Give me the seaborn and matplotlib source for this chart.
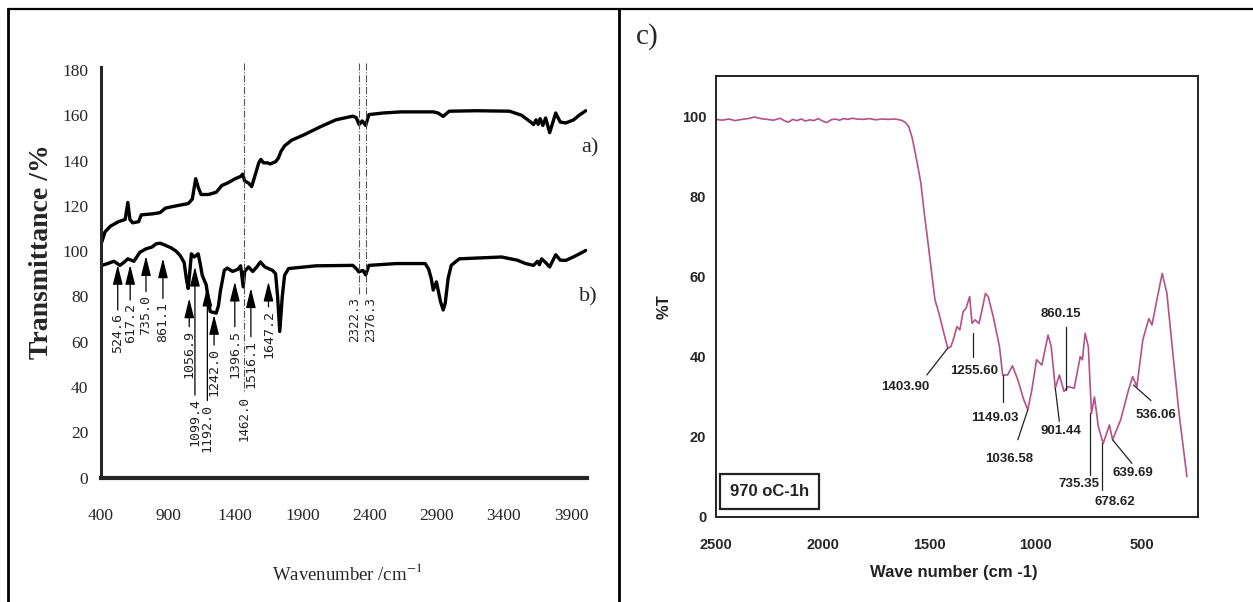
import matplotlib
matplotlib.use("Agg")
import matplotlib.pyplot as plt
import seaborn as sns
from matplotlib.lines import Line2D

# ---- left panel: FTIR spectra a) and b) ----
a_wn = [406, 430, 470, 530, 580, 600, 615, 636, 680, 700, 790, 840, 880, 960, 1050, 1080,
        1105, 1125, 1145, 1200, 1258, 1300, 1340, 1400, 1440, 1455, 1470, 1500, 1522, 1545,
        1575, 1590, 1610, 1640, 1660, 1700, 1720, 1740, 1767, 1820, 1916, 2036, 2150, 2275,
        2300, 2322, 2345, 2371, 2395, 2500, 2634, 2874, 2910, 2948, 2993, 3200, 3442, 3532,
        3600, 3621, 3640, 3655, 3670, 3690, 3711, 3741, 3786, 3820, 3861, 3920, 3960, 4010]
a_T = [104, 108.5, 111, 113, 114, 121.5, 114, 112.5, 113, 116, 116.5, 117, 119, 120, 121, 123,
       132, 128, 125, 125, 126, 129, 130, 132, 133, 134, 131, 130, 128.5, 133,
       139, 140.5, 139, 139, 138.5, 139.5, 141, 144, 146.5, 149, 151.5, 155, 158, 159.6,
       159, 155.9, 157.5, 155.5, 160.3, 161, 161.5, 161.5, 161, 159.5, 161.8, 162, 161.8, 160,
       157, 155.9, 158, 156, 158.5, 155.5, 158.8, 152.3, 161, 157, 156.6, 158, 160, 162]

b_wn = [406, 450, 496, 541, 570, 600, 645, 690, 735, 780, 810, 840, 870, 920, 959, 990, 1019,
        1035, 1049, 1060, 1073, 1094, 1124, 1140, 1154, 1184, 1200, 1213, 1258, 1275, 1288,
        1318, 1340, 1380, 1420, 1440, 1459, 1470, 1498, 1530, 1560, 1587, 1620, 1677, 1700,
        1715, 1731, 1750, 1767, 1797, 2000, 2275, 2305, 2320, 2350, 2371, 2395, 2600, 2814,
        2840, 2859, 2874, 2898, 2928, 2948, 2963, 2985, 3008, 3068, 3382, 3500, 3562, 3621,
        3650, 3665, 3681, 3710, 3741, 3786, 3820, 3861, 3920, 3970, 4010]
b_T = [93.7, 94.5, 95.5, 93.7, 95, 96.6, 95.5, 99.5, 101, 101.8, 103.2, 103.5, 102.8, 101.5, 100, 98, 95,
       88, 83.5, 90, 98.8, 97.4, 98.8, 94, 89.3, 85, 78, 73.3, 72.6, 76, 82,
       91.5, 92.5, 91, 92, 93.5, 84.2, 91, 93, 91, 93, 95.2, 93, 91.5, 90,
       80, 64.5, 80, 89.3, 92.3, 93.5, 93.7, 92, 90.8, 91.5, 89.5, 93.7, 94.5, 94.5,
       92, 87.9, 82.8, 86.4, 77.7, 74, 76.9, 88, 93.7, 96.6, 97.4, 96, 94.5, 93.7,
       95.5, 94, 96.6, 95, 93, 98.4, 96, 95.9, 97.5, 99, 100.3]

# arrows: band position, arrow tip and arrow tail (transmittance units)
arrow_bands = [524.6, 617.2, 735.0, 861.1, 1056.9, 1099.4, 1192.0, 1242.0, 1396.5, 1516.1, 1647.2]
arrow_tips = [93.9, 93.9, 97.8, 96.8, 79.1, 93.1, 84.3, 71.8, 86.5, 83.6, 86.5]
arrow_tails = [74, 78.4, 82.1, 79.1, 66.6, 36.4, 34, 58.5, 66.6, 62.2, 75.4]
# dash-dot reference bands, where their labels start, and label x nudges
dash_bands = [1462.0, 2322.3, 2376.3]
dash_ends = [37.5, 81, 81]
dash_nudge = [0, -30, 30]

# ---- right panel: 970 oC-1h spectrum ----
c_wn = [2500, 2470, 2440, 2410, 2380, 2350, 2320, 2290, 2260, 2230, 2200, 2180, 2160, 2140,
        2120, 2100, 2080, 2060, 2040, 2020, 2000, 1980, 1960, 1940, 1920, 1900, 1880, 1860,
        1840, 1810, 1780, 1750, 1720, 1690, 1660, 1630, 1610, 1595, 1580, 1567, 1550, 1538,
        1520, 1510, 1491, 1472, 1453, 1434, 1412, 1397, 1382, 1369, 1355, 1340, 1326, 1309,
        1298, 1284, 1265, 1250, 1235, 1222, 1198, 1169, 1154, 1131, 1108, 1083, 1055, 1036,
        1017, 995, 970, 941, 926, 907, 888, 866, 847, 818, 790, 780, 767, 752, 737, 723, 705,
        682, 653, 638, 600, 563, 544, 524, 496, 468, 453, 430, 405, 383, 355, 326, 289]
c_T = [99.4, 99.2, 99.5, 99.1, 99.4, 99.6, 100.0, 99.6, 99.4, 99.2, 99.7, 99.1, 98.7, 99.4,
       99.1, 99.5, 99.0, 99.3, 99.1, 99.6, 99.0, 98.6, 99.3, 99.5, 99.2, 99.6, 99.4, 99.7,
       99.5, 99.4, 99.6, 99.3, 99.5, 99.4, 99.5, 99.2, 98.6, 97.6, 95, 91.7, 87, 83.4,
       75, 70.9, 62.6, 54.3, 50.9, 46.8, 42.2, 42.6, 45, 47.6, 46.8, 51.3, 52.2, 55.1,
       48.4, 49.3, 48.4, 52, 55.9, 55.1, 50, 42.6, 35.5, 35.5, 37.8, 34.3, 29.3, 26.8,
       31.8, 39.3, 38, 45.5, 42.6, 32.2, 35.5, 31.4, 32.6, 32.2, 40.1, 39.3, 45.9, 42.6, 25.9, 30, 22.6,
       18.4, 23, 19.3, 24.3, 31.8, 35.1, 32.6, 44.3, 49.6, 48, 54.3, 60.9, 55.9, 40.9, 25.9, 10.1]

c_labels = ["1403.90", "1255.60", "1149.03", "1036.58", "901.44", "860.15",
            "735.35", "678.62", "639.69", "536.06"]
# label anchor (x, y) and leader line (x0, y0, x1, y1)
c_text_pos = [(1613, 32.4), (1289, 36.6), (1192, 24.8), (1125, 14.5), (879, 21.5),
              (879, 50.7), (794, 8.25), (629, 3.7), (544, 11.1), (434, 25.5)]
c_leaders = [(1510, 35.5, 1412, 42.2), (1293, 40.1, 1293, 45.9), (1154, 28.8, 1154, 35.5),
             (1083, 19.3, 1036, 26.8), (888, 23.9, 907, 32.2), (856, 47.6, 856, 31.8),
             (743, 10.4, 743, 26.1), (686, 6.8, 686, 18.4), (547, 13.4, 638, 19.3),
             (458, 29.1, 540, 33)]

W, H = 1253, 602
sns.set_style("white")
plt.rcParams["mathtext.fontset"] = "stix"


def box(l, t, r, b):
    return [l / W, 1 - b / H, (r - l) / W, (b - t) / H]


def fx(x):
    return x / W


def fy(y):
    return 1 - y / H


fig = plt.figure(figsize=(W / 100, H / 100), dpi=100)

# table frame
fig.add_artist(Line2D([fx(7.5), fx(1253)], [fy(9), fy(9)], transform=fig.transFigure, color="k", lw=1.6))
fig.add_artist(Line2D([fx(7.5), fx(7.5)], [fy(9), fy(602)], transform=fig.transFigure, color="k", lw=2))
fig.add_artist(Line2D([fx(619), fx(619)], [fy(9), fy(602)], transform=fig.transFigure, color="k", lw=2))

# ---- left axes ----
ax1 = fig.add_axes(box(101, 66.6, 586.6, 477.5))
sns.lineplot(x=a_wn, y=a_T, ax=ax1, color="k", lw=2.4)
sns.lineplot(x=b_wn, y=b_T, ax=ax1, color="k", lw=2.4)
ax1.set_xlim(400, 4016)
ax1.set_ylim(0, 181.5)
ax1.set_xticks(range(400, 4000, 500))
ax1.set_yticks(range(0, 181, 20))
for s in ["top", "right"]:
    ax1.spines[s].set_visible(False)
ax1.spines["left"].set_linewidth(2.2)
ax1.spines["bottom"].set_linewidth(3)
ax1.tick_params(axis="x", direction="out", length=5, width=2, pad=17)
ax1.tick_params(axis="y", direction="out", length=4, width=2, pad=5)
for lab in ax1.get_xticklabels() + ax1.get_yticklabels():
    lab.set_fontfamily("Liberation Serif")
    lab.set_fontsize(12.5)
ax1.set_xlabel("")
ax1.set_ylabel("")

for band, tip, tail in zip(arrow_bands, arrow_tips, arrow_tails):
    ax1.annotate("", xy=(band, tip), xytext=(band, tail),
                 arrowprops=dict(arrowstyle="-|>,head_length=1.2,head_width=0.3",
                                 color="k", lw=0.9, shrinkA=0, shrinkB=0, mutation_scale=10))
    ax1.text(band, tail - 1.4, f"{band:.1f}", rotation=90, ha="center", va="top",
             family="DejaVu Sans Mono", fontsize=9.5, color="#222222")

for band, end, nudge in zip(dash_bands, dash_ends, dash_nudge):
    ax1.plot([band, band], [183, end], color="#555555", lw=0.8, ls="-.", clip_on=False)
    ax1.text(band + nudge, end - 1.4, f"{band:.1f}", rotation=90, ha="center", va="top",
             family="DejaVu Sans Mono", fontsize=9, color="#222222")

fig.text(fx(590), fy(148), "a)", family="Liberation Serif", fontsize=16, ha="center", va="center")
fig.text(fx(588), fy(297), "b)", family="Liberation Serif", fontsize=16, ha="center", va="center")
fig.text(fx(42), fy(252), "Transmittance /%", rotation=90, family="Liberation Serif",
         weight="bold", fontsize=20, ha="center", va="center")
fig.text(fx(347), fy(573), r"Wavenumber /cm$^{-1}$", family="Liberation Serif",
         fontsize=13.5, ha="center", va="center")

# ---- right axes ----
pink = "#b4508a"
ax2 = fig.add_axes(box(716, 76, 1198, 517))
sns.lineplot(x=c_wn, y=c_T, ax=ax2, color=pink, lw=1.2)
ax2.set_xlim(2500, 237)
ax2.set_ylim(0, 110.25)
ax2.set_xticks([2500, 2000, 1500, 1000, 500])
ax2.set_xticks([2250, 1750, 1250, 750, 250], minor=True)
ax2.set_yticks(range(0, 101, 20))
ax2.set_yticks(range(10, 100, 20), minor=True)
for s in ax2.spines.values():
    s.set_linewidth(1.4)
    s.set_color("#222222")
ax2.tick_params(axis="x", which="both", direction="out", length=5, width=1, color="k", pad=10)
ax2.tick_params(axis="y", which="major", direction="out", length=5, width=1.2, color=pink, pad=2)
ax2.tick_params(axis="y", which="minor", direction="out", length=3, width=1.2, color=pink)
for lab in ax2.get_xticklabels() + ax2.get_yticklabels():
    lab.set_fontfamily("Liberation Sans")
    lab.set_fontweight("bold")
    lab.set_fontsize(10.5)
ax2.set_xlabel("")
ax2.set_ylabel("")

for txt, (tx, ty), (x0, y0, x1, y1) in zip(c_labels, c_text_pos, c_leaders):
    ax2.plot([x0, x1], [y0, y1], color="#222222", lw=0.9)
    ax2.text(tx, ty, txt, ha="center", va="center", family="Liberation Sans",
             weight="bold", fontsize=9.5, color="#222222")

ax2.text(2249, 6.3, "970 oC-1h", ha="center", va="center", family="Liberation Sans",
         weight="bold", fontsize=12, color="#222222",
         bbox=dict(boxstyle="square,pad=0.6", fc="white", ec="#222222", lw=1.6))

fig.text(fx(664), fy(307), "%T", rotation=90, family="Liberation Sans", weight="bold",
         fontsize=12, ha="center", va="center", color="#222222")
fig.text(fx(954), fy(573), "Wave number (cm -1)", family="Liberation Sans", weight="bold",
         fontsize=12, ha="center", va="center", color="#222222")
fig.text(fx(647), fy(37), "c)", family="Liberation Serif", fontsize=21, ha="center", va="center")

fig.savefig("out.png", dpi=100)
